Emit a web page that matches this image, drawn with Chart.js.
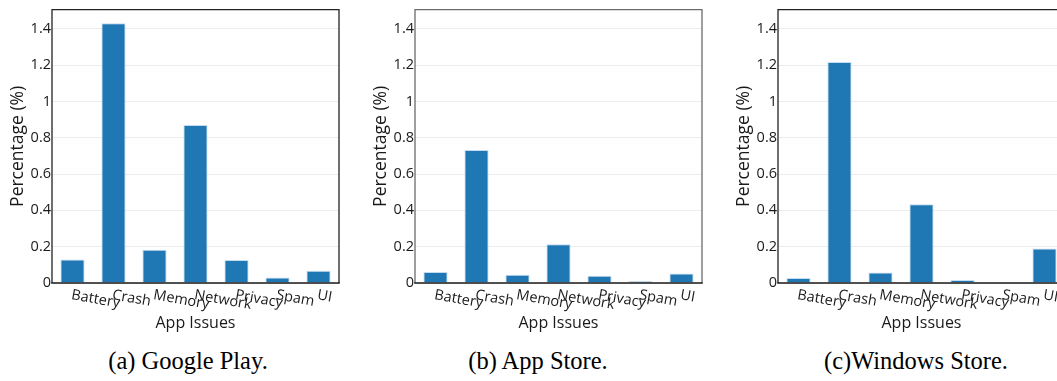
<!DOCTYPE html>
<html>
<head>
<meta charset="utf-8">
<script src="https://cdn.jsdelivr.net/npm/chart.js@4/dist/chart.umd.min.js"></script>
<style>
  html, body { margin: 0; padding: 0; background: #fff; }
  body { width: 1057px; height: 381px; position: relative; overflow: hidden; }
  canvas.panel { position: absolute; top: 0; }
  .caption {
    position: absolute; top: 344px; width: 300px; margin-left: -150px;
    text-align: center; font-family: "Liberation Serif", "DejaVu Serif", serif;
    font-size: 25.5px; line-height: 34px; color: #000; white-space: nowrap;
    transform: scaleX(0.96);
  }
</style>
</head>
<body>
<canvas class="panel" id="gp" width="349" height="340" style="left:0px"></canvas>
<canvas class="panel" id="as" width="349" height="340" style="left:363px"></canvas>
<canvas class="panel" id="ws" width="349" height="340" style="left:726px"></canvas>
<div class="caption" style="left:188px">(a) Google Play.</div>
<div class="caption" style="left:538px">(b) App Store.</div>
<div class="caption" style="left:916px">(c)Windows Store.</div>
<script>
// App issue categories shared by all three stores
const categories = ['Battery', 'Crash', 'Memory', 'Network', 'Privacy', 'Spam', 'UI'];

// Share of reviews (%) mentioning each issue
const googlePlay   = [0.13, 1.43, 0.183, 0.87, 0.127, 0.03, 0.067];
const appStore     = [0.06, 0.732, 0.045, 0.214, 0.04, 0.01, 0.053];
const windowsStore = [0.027, 1.217, 0.058, 0.434, 0.016, 0, 0.19];

// Y axis ticks
const yTickValues = [0, 0.2, 0.4, 0.6, 0.8, 1, 1.2, 1.4];
const yTickLabels = ['0', '0.2', '0.4', '0.6', '0.8', '1', '1.2', '1.4'];

const xTitle = 'App Issues';
const yTitle = 'Percentage (%)';

const BAR_BLUE = '#1f77b4';
const FONT = '"Open Sans", "DejaVu Sans", sans-serif';

// Slanted category labels under the x axis, placed at the scale's tick pixels
const slantedLabels = {
  id: 'slantedLabels',
  afterDraw(chart) {
    const xs = chart.scales.x;
    const ctx = chart.ctx;
    const area = chart.chartArea;
    ctx.save();
    ctx.font = '14.5px ' + FONT;
    ctx.fillStyle = '#1a1a1a';
    ctx.textAlign = 'left';
    ctx.textBaseline = 'middle';
    xs.ticks.forEach((t, i) => {
      const x = xs.getPixelForTick(i);
      ctx.save();
      ctx.translate(x - 1, area.bottom + 12);
      ctx.rotate(10 * Math.PI / 180);
      ctx.fillText(categories[i], 0, 0);
      ctx.restore();
    });
    ctx.restore();
  }
};

// Box round the plotting area
const frame = {
  id: 'frame',
  afterDatasetsDraw(chart, args, opts) {
    const {left, right, top, bottom} = chart.chartArea;
    const ctx = chart.ctx;
    ctx.save();
    ctx.lineWidth = 1.3;
    ctx.strokeStyle = opts.color;
    ctx.beginPath();
    ctx.moveTo(left, bottom);
    ctx.lineTo(left, top);
    ctx.lineTo(right, top);
    ctx.lineTo(right, bottom);
    ctx.stroke();
    ctx.strokeStyle = '#1a1a1a';
    ctx.lineWidth = 1.5;
    ctx.beginPath();
    ctx.moveTo(left - 0.75, bottom);
    ctx.lineTo(right + 0.75, bottom);
    ctx.stroke();
    ctx.restore();
  }
};

function makeChart(id, values, frameColor) {
  return new Chart(document.getElementById(id), {
    type: 'bar',
    data: {
      labels: categories,
      datasets: [{
        data: values,
        backgroundColor: BAR_BLUE,
        borderColor: 'rgba(190,215,238,0.9)',
        borderWidth: 1,
        barPercentage: 0.59,
        categoryPercentage: 1
      }]
    },
    plugins: [slantedLabels, frame],
    options: {
      responsive: false,
      animation: false,
      layout: { padding: { top: 8, right: 10, left: 0, bottom: 0 } },
      plugins: {
        legend: { display: false },
        tooltip: { enabled: false },
        frame: { color: frameColor }
      },
      scales: {
        x: {
          grid: { display: false, drawTicks: false },
          border: { display: false },
          ticks: { display: false },
          title: {
            display: true, text: xTitle, color: '#1a1a1a',
            font: { family: FONT, size: 16 },
            padding: { top: 0, bottom: 7 }
          },
          afterFit(scale) { scale.height = 57; }
        },
        y: {
          min: 0,
          max: 1.505,
          grid: { color: '#ececec', lineWidth: 1, drawTicks: false },
          border: { display: false },
          afterBuildTicks(scale) {
            scale.ticks = yTickValues.map(v => ({ value: v }));
          },
          ticks: {
            padding: 1,
            color: '#1a1a1a',
            font: { family: FONT, size: 14.5 },
            callback: (v, i) => yTickLabels[i]
          },
          title: {
            display: true, text: yTitle, color: '#1a1a1a',
            font: { family: FONT, size: 17.5 },
            padding: { top: 7.5, bottom: 0 }
          },
          afterFit(scale) { scale.width = 52; }
        }
      }
    }
  });
}

makeChart('gp', googlePlay, '#222');
makeChart('as', appStore, '#6b6b6b');
makeChart('ws', windowsStore, '#222');
</script>
</body>
</html>
